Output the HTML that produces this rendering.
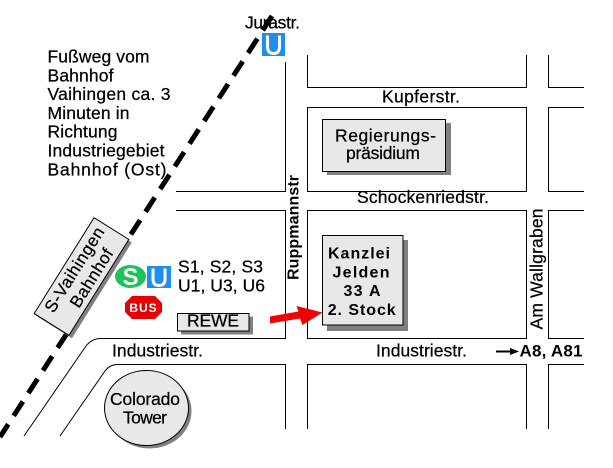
<!DOCTYPE html>
<html><head><meta charset="utf-8"><style>
html,body{margin:0;padding:0;background:#fff;}
svg{display:block;}
text{font-family:"Liberation Sans",Arial,sans-serif;fill:#000;}
.n{stroke:#000;stroke-width:0.25;}
</style></head><body>
<svg width="613" height="468" viewBox="0 0 613 468" xmlns="http://www.w3.org/2000/svg">
<rect width="613" height="468" fill="#fff"/>
<!-- roads -->
<g fill="none" stroke="#000" stroke-width="1" shape-rendering="crispEdges">
<path d="M176 191.5 H285.5 V62"/>
<path d="M307.5 55 V87.5 H526.5 V55"/>
<path d="M548.5 55 V87.5 H584"/>
<path d="M307.5 107.5 H526.5 V191.5 H307.5 Z"/>
<path d="M584 107.5 H548.5 V191.5 H584"/>
<path d="M176 210.5 H285.5 V338.5 H100"/>
<path d="M307.5 210.5 H526.5 V338.5 H307.5 Z"/>
<path d="M584 210.5 H548.5 V338.5 H584"/>
<path d="M117 364.5 H285.5 V429"/>
<path d="M307.5 429 V364.5 H526.5 V429"/>
<path d="M584 364.5 H548.5 V429"/>
</g>
<g fill="none" stroke="#000" stroke-width="1">
<path d="M100.5 338.5 Q92 338.5 86 346 L24 436"/>
<path d="M117.5 364.5 Q110 364.5 105 371 L60 436"/>
</g>

<!-- Text block -->
<g font-size="17.5" class="n">
<text class="n" x="47.5" y="62.3" textLength="102" lengthAdjust="spacing">Fußweg vom</text>
<text class="n" x="47.5" y="81.7" textLength="66" lengthAdjust="spacing">Bahnhof</text>
<text class="n" x="47.5" y="100" textLength="123" lengthAdjust="spacing">Vaihingen ca. 3</text>
<text class="n" x="47.5" y="119" textLength="82" lengthAdjust="spacing">Minuten in</text>
<text class="n" x="47.5" y="137.7" textLength="70" lengthAdjust="spacing">Richtung</text>
<text class="n" x="47.5" y="156.7" textLength="117" lengthAdjust="spacing">Industriegebiet</text>
<text class="n" x="47.5" y="175.7" textLength="119" lengthAdjust="spacing">Bahnhof (Ost)</text>

<text class="n" x="245" y="28.3" textLength="55" lengthAdjust="spacing">Jurastr.</text>
<text class="n" x="382" y="102.5" textLength="78" lengthAdjust="spacing">Kupferstr.</text>
<text class="n" x="357" y="203" textLength="132" lengthAdjust="spacing">Schockenriedstr.</text>
<text class="n" x="376" y="356.3" textLength="91" lengthAdjust="spacing">Industriestr.</text>
<text class="n" x="112" y="356.5" textLength="91" lengthAdjust="spacing">Industriestr.</text>
<text class="n" x="178" y="272.7" textLength="85" lengthAdjust="spacing">S1, S2, S3</text>
<text class="n" x="178" y="291.7" textLength="87" lengthAdjust="spacing">U1, U3, U6</text>
<text class="n" transform="translate(542.5,329.5) rotate(-90)" textLength="121" lengthAdjust="spacing">Am Wallgraben</text>
</g>
<text transform="translate(298.5,280) rotate(-90)" font-size="16" font-weight="bold" textLength="105" lengthAdjust="spacing">Ruppmannstr</text>

<!-- A8 arrow -->
<line x1="496" y1="351.5" x2="512" y2="351.5" stroke="#000" stroke-width="2"/>
<polygon points="510,348 519,351.5 510,355" fill="#000"/>
<text x="519.5" y="356.7" font-size="17" font-weight="bold" textLength="63" lengthAdjust="spacing">A8, A81</text>

<!-- Regierungspraesidium -->
<rect x="327" y="123" width="124" height="52" fill="#808080"/>
<rect x="322.5" y="119.5" width="123" height="52" fill="#e8e8e8" stroke="#000" stroke-width="1"/>
<text class="n" x="385.5" y="141.7" font-size="17.5" text-anchor="middle" textLength="101" lengthAdjust="spacing">Regierungs-</text>
<text class="n" x="383" y="159" font-size="17.5" text-anchor="middle" textLength="74" lengthAdjust="spacing">präsidium</text>

<!-- Kanzlei -->
<rect x="327" y="240" width="81" height="91" fill="#808080"/>
<rect x="322.5" y="235.5" width="80.5" height="89.5" fill="#e8e8e8" stroke="#000" stroke-width="1"/>
<g font-size="16" font-weight="bold" text-anchor="middle">
<text x="359" y="258.3" textLength="62" lengthAdjust="spacing">Kanzlei</text>
<text x="361" y="277.3" textLength="57" lengthAdjust="spacing">Jelden</text>
<text x="362" y="296" textLength="37" lengthAdjust="spacing">33 A</text>
<text x="361.7" y="315" textLength="68" lengthAdjust="spacing">2. Stock</text>
</g>

<!-- red arrow -->
<polygon points="270,316.5 298.5,311.5 296.5,306 322.5,312.5 302.5,325 300,318.5 270,323.5" fill="#f00000"/>

<!-- REWE -->
<rect x="181" y="316.5" width="72" height="18" fill="#808080"/>
<rect x="177.5" y="313.5" width="71.5" height="17.5" fill="#e8e8e8" stroke="#000" stroke-width="1"/>
<text class="n" x="213" y="326.7" font-size="17.5" text-anchor="middle" textLength="52" lengthAdjust="spacing">REWE</text>

<!-- S / U / BUS icons -->
<ellipse cx="130.5" cy="276.5" rx="15.5" ry="11.5" fill="#1fc25a"/>
<text x="130.5" y="285" font-size="24" font-weight="bold" text-anchor="middle" style="fill:#fff">S</text>
<rect x="147" y="266" width="24" height="22" fill="#1e8fef"/>
<path d="M153 268.5 V279 Q153 285.5 159 285.5 Q165 285.5 165 279 V268.5" fill="none" stroke="#fff" stroke-width="3"/>
<rect x="262" y="33" width="23" height="23" fill="#1e8fef"/>
<path d="M267.5 35.5 V46.5 Q267.5 53.5 273.5 53.5 Q279.5 53.5 279.5 46.5 V35.5" fill="none" stroke="#fff" stroke-width="3"/>
<polygon points="132,296 155,296 162,303 162,312 155,319 132,319 125,312 125,303" fill="#e50000"/>
<text x="143.5" y="312" font-size="12" font-weight="bold" text-anchor="middle" letter-spacing="1" style="fill:#fff">BUS</text>

<!-- Colorado Tower -->
<ellipse cx="149.5" cy="411" rx="42" ry="37.5" fill="#808080"/>
<ellipse cx="146.5" cy="408" rx="42" ry="37.5" fill="#e8e8e8" stroke="#000" stroke-width="1"/>
<text class="n" x="145" y="405" font-size="17.5" text-anchor="middle" textLength="70" lengthAdjust="spacing">Colorado</text>
<text class="n" x="145" y="423.3" font-size="17.5" text-anchor="middle" textLength="44" lengthAdjust="spacing">Tower</text>

<!-- railway dashed -->
<line x1="272" y1="16" x2="0" y2="437" stroke="#000" stroke-width="5" stroke-dasharray="17 10"/>

<!-- S-Vaihingen Bahnhof box -->
<g transform="translate(84.5,279.5) rotate(-58)">
<rect x="-56.5" y="-20.5" width="113" height="41" fill="#808080"/>
</g>
<g transform="translate(81.5,276.5) rotate(-58)">
<rect x="-56.5" y="-20.5" width="113" height="41" fill="#e8e8e8" stroke="#000" stroke-width="1"/>
<text class="n" x="2" y="-4" font-size="17" text-anchor="middle" textLength="97" lengthAdjust="spacing">S-Vaihingen</text>
<text class="n" x="4" y="15" font-size="17" text-anchor="middle" textLength="66" lengthAdjust="spacing">Bahnhof</text>
</g>
</svg>
</body></html>
